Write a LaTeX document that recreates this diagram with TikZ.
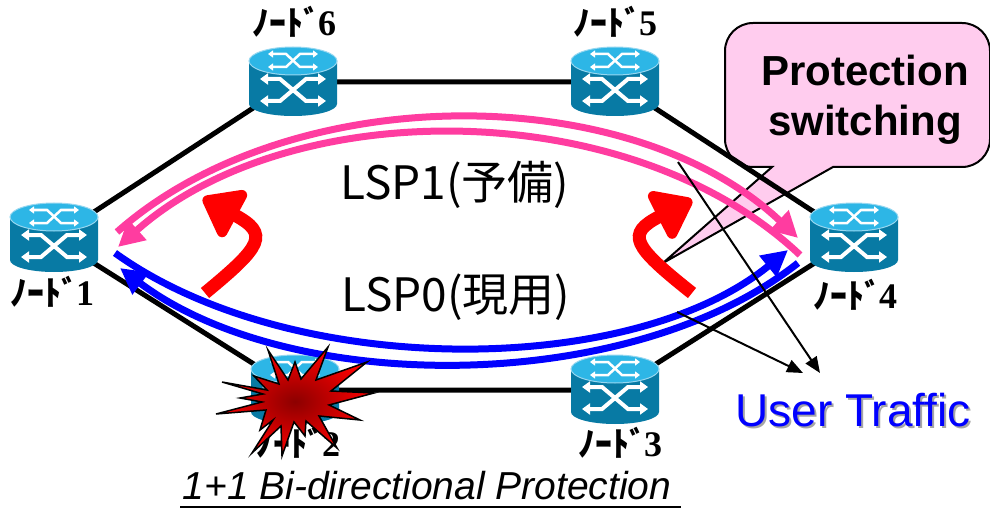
\documentclass[tikz,border=0pt]{standalone}
\usepackage{fontspec}
\setmainfont{Liberation Sans}
\newfontfamily\jp{Noto Sans CJK JP}
\newfontfamily\digitfont{Liberation Serif}
\usetikzlibrary{arrows.meta}

\definecolor{lspPink}{RGB}{255,60,160}
\definecolor{calloutPink}{RGB}{255,204,238}
\definecolor{routerTop}{RGB}{45,182,230}
\definecolor{routerBody}{RGB}{8,122,164}
\definecolor{routerRim}{RGB}{150,215,240}

\newcommand{\nodelbl}[1]{ﾉｰﾄﾞ\kern-2pt{\digitfont\bfseries\fontsize{36}{36}\selectfont #1}}

\tikzset{
    router/.pic={
        \fill[routerBody] (-44,-21) -- (-44,22) arc[start angle=180,end angle=0,x radius=44,y radius=12] -- (44,-21) -- cycle;
        \filldraw[fill=routerTop, draw=routerRim, line width=1pt] (0,-21) ellipse [x radius=44, y radius=14];
        \draw[white, line width=4pt, {Triangle[length=8pt,width=11pt]}-{Triangle[length=8pt,width=11pt]}]
            (-33,-3) -- (-13,-3) -- (13,19) -- (33,19);
        \draw[white, line width=4pt, {Triangle[length=8pt,width=11pt]}-{Triangle[length=8pt,width=11pt]}]
            (-33,19) -- (-13,19) -- (13,-3) -- (33,-3);
        \draw[white, line width=2.5pt, {Triangle[length=5pt,width=7pt]}-{Triangle[length=5pt,width=7pt]}]
            (-25,-28) -- (-7,-28) -- (7,-15) -- (25,-15);
        \draw[white, line width=2.5pt, {Triangle[length=5pt,width=7pt]}-{Triangle[length=5pt,width=7pt]}]
            (-25,-15) -- (-7,-15) -- (7,-28) -- (25,-28);
    }
}

\begin{document}
\begin{tikzpicture}[x=1pt,y=-1pt,
    link/.style={line width=5pt},
    lbl/.style={font=\jp\bfseries\fontsize{34}{34}\selectfont, inner sep=0pt},
    pinklsp/.style={line width=7pt, lspPink, -{Triangle[length=26pt,width=26pt]}},
    bluelsp/.style={line width=7pt, blue, -{Triangle[length=26pt,width=26pt]}},
    switchover/.style={line width=13pt, red, -{Triangle[length=42pt,width=60pt,round]}},
    thin arrow/.style={line width=2pt, -{Triangle[length=16pt,width=13pt]}},
    lsptext/.style={font=\jp\fontsize{46}{46}\selectfont, inner sep=0pt},
    traffic/.style={font=\fontsize{46}{46}\selectfont, inner sep=0pt}]
    \useasboundingbox (0,0) rectangle (990,513);

    \coordinate (n1) at (54,238);
    \coordinate (n6) at (293,82);
    \coordinate (n5) at (615,82);
    \coordinate (n4) at (854,238);
    \coordinate (n3) at (615,390);
    \coordinate (n2) at (295,390);

    % callout
    \filldraw[fill=calloutPink, draw=black, line width=2pt]
        (663,263) -- (772,167) [rounded corners=28pt] -- (725,167) -- (725,23) -- (990,23) -- (990,167)
        [sharp corners] -- (833,167) -- cycle;
    \node[font=\bfseries\fontsize{42}{50}\selectfont, align=center, inner sep=0pt] (switch) at (865,100) {Protection\\switching};

    \draw[link] (n1) -- (n6) -- (n5) -- (n4) -- (n3) -- (n2) -- cycle;

    \pic at (n1) {router};
    \pic at (n6) {router};
    \pic at (n5) {router};
    \pic at (n4) {router};
    \pic at (n3) {router};
    \pic at (n2) {router};

    \node[lbl] (l1) at (52,292) {\nodelbl{1}};
    \node[lbl] (l6) at (294,22) {\nodelbl{6}};
    \node[lbl] (l5) at (615,22) {\nodelbl{5}};
    \node[lbl] (l4) at (855,295) {\nodelbl{4}};
    \node[lbl] (l3) at (620,443) {\nodelbl{3}};
    \node[lbl] (l2) at (298,443) {\nodelbl{2}};

    \coordinate (p1s) at (117,232);
    \coordinate (p1e) at (798,238);
    \coordinate (p2s) at (800,255);
    \coordinate (p2e) at (118,247);
    \coordinate (b1s) at (115,253);
    \coordinate (b1e) at (788,250);
    \coordinate (b2s) at (798,263);
    \coordinate (b2e) at (120,268);

    \draw[pinklsp] (p1s) .. controls (290,79) and (630,79) .. (p1e);
    \draw[pinklsp] (p2s) .. controls (630,94) and (290,94) .. (p2e);
    \draw[bluelsp] (b1s) .. controls (290,379) and (630,379) .. (b1e);
    \draw[bluelsp] (b2s) .. controls (630,396) and (290,396) .. (b2e);

    \node[lsptext] (lsp1) at (455,185) {LSP1(予備)};
    \node[lsptext] (lsp0) at (456,297) {LSP0(現用)};

    \draw[switchover] (205,293) .. controls (262,246) and (270,234) .. (203,198);
    \draw[switchover] (692,293) .. controls (633,246) and (625,234) .. (692,200);

    % failure at node 2
    \shadedraw[inner color=red!55!black, outer color=red, draw=black, line width=1.5pt]
        (328,347) -- (316,380) -- (367,362) -- (331,391) -- (374,393) -- (329,405) -- (360,420) -- (319,416)
        -- (337,448) -- (306,421) -- (305,436) -- (294,422) -- (282,456) -- (281,426) -- (252,453) -- (273,420)
        -- (260,430) -- (266,410) -- (216,414) -- (262,402) -- (240,398) -- (263,394) -- (222,382) -- (267,390)
        -- (254,376) -- (279,384) -- (268,350) -- (288,380) -- (295,362) -- (301,379) -- cycle;

    \coordinate (ut1) at (678,162);
    \coordinate (ut2) at (677,312);
    \coordinate (utTip1) at (820,373);
    \coordinate (utTip2) at (803,373);
    \draw[thin arrow] (ut1) -- (utTip1);
    \draw[thin arrow] (ut2) -- (utTip2);

    \node[traffic, text=black!35] (trafficShadow) at (855,412) {User Traffic};
    \node[traffic, text=blue] (traffic) at (853,410) {User Traffic};

    \node[font=\itshape\fontsize{39}{39}\selectfont, inner sep=0pt] (title) at (427,486) {1+1 Bi-directional Protection};
    \draw[line width=2pt] ([shift={(-2,7)}]title.base west) -- ([shift={(9,7)}]title.base east);
\end{tikzpicture}
\end{document}
